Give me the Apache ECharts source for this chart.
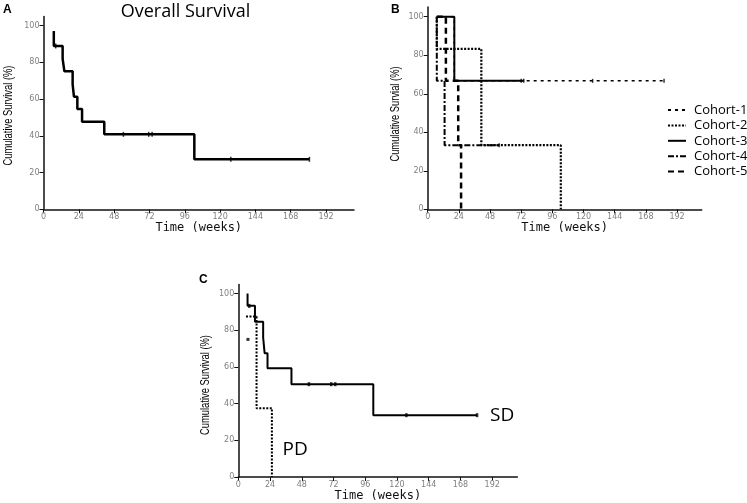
<!DOCTYPE html>
<html><head><meta charset="utf-8">
<script src="https://cdn.jsdelivr.net/npm/echarts@6/dist/echarts.min.js"></script>
<style>html,body{margin:0;padding:0;background:#fff}#c{width:747px;height:503px}</style>
</head><body><div id="c"></div>
<script>
// ---- tick labels ----
const xTicks = [0, 24, 48, 72, 96, 120, 144, 168, 192];
const yTicks = [0, 20, 40, 60, 80, 100];

// ---- Panel A: overall survival (step times / survival %) ----
const osTime = [7, 7, 13, 14.2, 19.8, 20.7, 23, 26.2, 41.3, 102.5, 180.7];
const osSurv = [97, 88.9, 81.9, 75.1, 68, 61.3, 54.6, 47.7, 40.8, 27.2, 27.2];
const osCensorTime = [8.3, 54.3, 71.5, 73.8, 127.3, 180.7];
const osCensorSurv = [88.9, 40.8, 40.8, 40.8, 27.2, 27.2];

// ---- Panel B: cohorts ----
const cohortNames = ['Cohort-1', 'Cohort-2', 'Cohort-3', 'Cohort-4', 'Cohort-5'];
const c1Time = [7, 20.5, 182];        const c1Surv = [100, 66.7, 66.7];
const c2Time = [7, 7, 41.3, 102.5];   const c2Surv = [100, 83.3, 33.3, 0];
const c3Time = [7, 20.5, 74];         const c3Surv = [100, 66.7, 66.7];
const c4Time = [7, 7, 13, 55];        const c4Surv = [100, 66.7, 33.3, 33.3];
const c5Time = [7, 14, 23.5, 25.7];   const c5Surv = [100, 66.7, 33.3, 0];
const c1CensorTime = [127, 182];  const c1CensorSurv = [66.7, 66.7];
const c3CensorTime = [72, 74];    const c3CensorSurv = [66.7, 66.7];
const c4CensorTime = [55];        const c4CensorSurv = [33.3];

// ---- Panel C: SD vs PD ----
const sdTime = [7, 7, 12.6, 18.8, 19.9, 22.1, 40.2, 102.1, 180.6];
const sdSurv = [100, 93.3, 84.6, 76, 67.5, 59.3, 50.6, 33.7, 33.7];
const sdCensorTime = [8.3, 53.4, 70.3, 73.3, 127.1, 180.6];
const sdCensorSurv = [93.3, 50.6, 50.6, 50.6, 33.7, 33.7];
const pdTime = [5.8, 13.8, 25.4];
const pdSurv = [87.5, 37.5, 0];
const pdCensorTime = [7.3];
const pdCensorSurv = [75];

const zip = (a, b) => a.map((v, i) => [v, b[i]]);

const tickFont = {fontFamily: 'DejaVu Sans', fontSize: 8, color: '#808080', margin: 4};
function xAx(gi) {
  return {gridIndex: gi, type: 'value', min: 0, max: 211,
    axisLine: {show: true, lineStyle: {color: '#111', width: 1.5}},
    axisTick: {show: true, length: 4, customValues: xTicks, lineStyle: {color: '#111', width: 1}},
    axisLabel: Object.assign({customValues: xTicks}, tickFont),
    splitLine: {show: false},
    name: 'Time (weeks)', nameLocation: 'middle', nameGap: 13,
    nameTextStyle: {fontFamily: 'DejaVu Sans Mono', fontSize: 12, color: '#111'}};
}
function yAx(gi) {
  return {gridIndex: gi, type: 'value', min: 0, max: 105,
    axisLine: {show: true, lineStyle: {color: '#111', width: 1.5}},
    axisTick: {show: true, length: 4, customValues: yTicks, lineStyle: {color: '#111', width: 1}},
    axisLabel: Object.assign({customValues: yTicks}, tickFont),
    splitLine: {show: false}};
}
function km(name, gi, t, s, width, type, extra) {
  return Object.assign({name: name, type: 'line', xAxisIndex: gi, yAxisIndex: gi, step: 'end',
    data: zip(t, s), symbol: 'none', silent: true, animation: false,
    lineStyle: {color: '#000', width: width, type: type},
    itemStyle: {color: '#000'}}, extra || {});
}
function cens(gi, t, s, size) {
  return {type: 'scatter', xAxisIndex: gi, yAxisIndex: gi, data: zip(t, s),
    symbol: 'rect', symbolSize: size, itemStyle: {color: '#000'}, silent: true, animation: false};
}
function yName(text, x, y) {
  return {type: 'text', x: x, y: y, rotation: Math.PI / 2, scaleX: 0.78,
    style: {text: text, font: '12px "Liberation Sans", Arial, sans-serif', fill: '#000', align: 'center', verticalAlign: 'middle'}};
}

const chart = echarts.init(document.getElementById('c'), null, {renderer: 'canvas'});
chart.setOption({
  animation: false,
  grid: [
    {left: 43.5, top: 16.4, width: 310.5, height: 192.9},
    {left: 427.7, top: 7.1, width: 274, height: 202.2},
    {left: 238.3, top: 284.4, width: 279, height: 194.9}
  ],
  xAxis: [xAx(0), xAx(1), xAx(2)],
  yAxis: [yAx(0), yAx(1), yAx(2)],
  legend: {
    data: cohortNames, orient: 'vertical', left: 667, top: 103.5, padding: 0,
    itemWidth: 18, itemHeight: 10, itemGap: 2.4,
    itemStyle: {color: 'rgba(0,0,0,0)', borderColor: 'rgba(0,0,0,0)', borderWidth: 0},
    textStyle: {fontFamily: 'Open Sans', fontSize: 13, color: '#000', padding: [0, 0, 0, 3]},
    selectedMode: false
  },
  series: [
    km('Overall', 0, osTime, osSurv, 2.5, 'solid'),
    cens(0, osCensorTime, osCensorSurv, [1.5, 5]),
    km('Cohort-1', 1, c1Time, c1Surv, 1.5, [3, 4]),
    km('Cohort-2', 1, c2Time, c2Surv, 2.2, [2, 1.5]),
    km('Cohort-3', 1, c3Time, c3Surv, 2, 'solid'),
    km('Cohort-4', 1, c4Time, c4Surv, 2, [6, 2, 2, 2]),
    km('Cohort-5', 1, c5Time, c5Surv, 2.5, [6, 4]),
    cens(1, c1CensorTime, c1CensorSurv, [1.5, 4]),
    cens(1, c3CensorTime, c3CensorSurv, [1.5, 4]),
    cens(1, c4CensorTime, c4CensorSurv, [1.5, 4]),
    km('SD', 2, sdTime, sdSurv, 2, 'solid', {
      endLabel: {show: true, formatter: 'SD', distance: 13, fontFamily: 'Open Sans', fontSize: 19, color: '#000'}
    }),
    cens(2, sdCensorTime, sdCensorSurv, [2.5, 4]),
    km('PD', 2, pdTime, pdSurv, 2, [2, 1.5]),
    cens(2, pdCensorTime, pdCensorSurv, [3, 3])
  ],
  graphic: [
    {type: 'text', left: 3, top: 4, style: {text: 'A', font: 'bold 12px "Liberation Sans", Arial, sans-serif', fill: '#000'}},
    {type: 'text', left: 391, top: 4, style: {text: 'B', font: 'bold 12px "Liberation Sans", Arial, sans-serif', fill: '#000'}},
    {type: 'text', left: 199, top: 274, style: {text: 'C', font: 'bold 12px "Liberation Sans", Arial, sans-serif', fill: '#000'}},
    {type: 'text', x: 185.5, y: 12, style: {text: 'Overall Survival', font: '18px "Open Sans", sans-serif', fill: '#000', align: 'center', verticalAlign: 'middle'}},
    {type: 'text', x: 282.5, y: 450, style: {text: 'PD', font: '19px "Open Sans", sans-serif', fill: '#000', align: 'left', verticalAlign: 'middle'}},
    yName('Cumulative Survival (%)', 9, 115.5),
    yName('Cumulative Survial (%)', 396, 114),
    yName('Cumulative Survival (%)', 205.5, 385)
  ]
});
</script></body></html>
